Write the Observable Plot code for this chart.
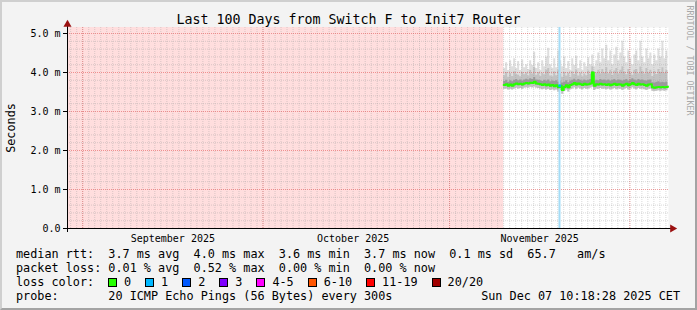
<!DOCTYPE html>
<html><head><meta charset="utf-8">
<script src="https://cdn.jsdelivr.net/npm/d3@7"></script>
<script src="https://cdn.jsdelivr.net/npm/@observablehq/plot@0.6"></script>
<style>
body{margin:0;background:#f3f3f3;}
#wrap{position:relative;width:697px;height:310px;background:#f3f3f3;overflow:hidden;font-family:"DejaVu Sans Mono",monospace;color:#000;}
#wrap svg{position:absolute;left:0;top:0;}
.t{position:absolute;white-space:pre;line-height:14px;font-size:11.8px;}
#title{left:0;width:697px;text-align:center;top:12.6px;font-size:13.3px;}
.box{position:absolute;width:7px;height:7px;border:1px solid #000;}
#frame{position:absolute;left:0;top:0;width:697px;height:310px;box-sizing:border-box;border-top:2px solid #cfcfcf;border-left:2px solid #cfcfcf;border-bottom:2px solid #a3a3a3;border-right:2px solid #a3a3a3;pointer-events:none;}
</style></head><body><div id="wrap"></div>
<script>
// ---- data ----
const title = "Last 100 Days from Switch F to Init7 Router";
const yLabel = "Seconds";
const yTicks = [0, 1, 2, 3, 4, 5];
const monthStarts = ["2025-08-31T22:00:00Z", "2025-09-30T22:00:00Z", "2025-10-31T23:00:00Z", "2025-11-30T23:00:00Z"];
const monthLabelAt = ["2025-09-15T22:00:00Z", "2025-10-15T22:00:00Z", "2025-11-15T23:00:00Z"];
const rangeStart = "2025-08-29T09:18:28Z";
const rangeEnd = "2025-12-07T09:18:28Z";
const unknownEnd = "2025-11-09T23:00:00Z";   // data begins here
const markerTime = "2025-11-19T06:00:00Z";    // light blue vertical line
const sampleHours = 8;

const median = [3.68,3.70,3.66,3.69,3.66,3.70,3.72,3.70,3.71,3.69,
 3.72,3.73,3.72,3.74,3.73,3.76,3.72,3.71,3.70,3.68,
 3.70,3.67,3.69,3.66,3.68,3.65,3.67,3.62,3.66,3.55,
 3.63,3.67,3.62,3.68,3.70,3.73,3.69,3.72,3.70,3.68,
 3.71,3.69,3.70,3.72,4.00,3.66,3.70,3.69,3.71,3.69,
 3.70,3.68,3.70,3.67,3.69,3.71,3.68,3.70,3.69,3.66,
 3.69,3.71,3.67,3.70,3.73,3.70,3.68,3.71,3.69,3.70,
 3.68,3.66,3.69,3.70,3.62,3.61,3.62,3.63,3.62,3.63,
 3.62,3.63,3.64];
const smokeMin = [3.57,3.58,3.55,3.57,3.55,3.58,3.60,3.58,3.59,3.57,
 3.60,3.61,3.60,3.62,3.61,3.63,3.60,3.59,3.58,3.56,
 3.58,3.55,3.57,3.54,3.56,3.53,3.55,3.50,3.54,3.44,
 3.51,3.55,3.50,3.56,3.58,3.61,3.57,3.60,3.58,3.56,
 3.59,3.57,3.58,3.60,3.62,3.54,3.58,3.57,3.59,3.57,
 3.58,3.56,3.58,3.55,3.57,3.59,3.56,3.58,3.57,3.54,
 3.57,3.59,3.55,3.58,3.61,3.58,3.56,3.59,3.57,3.58,
 3.56,3.54,3.57,3.58,3.52,3.51,3.52,3.53,3.52,3.53,
 3.52,3.53,3.54];
const smokeQ1 = [3.64,3.66,3.62,3.65,3.62,3.66,3.68,3.66,3.67,3.65,
 3.68,3.69,3.68,3.70,3.69,3.72,3.68,3.67,3.66,3.64,
 3.66,3.63,3.65,3.62,3.64,3.61,3.63,3.58,3.62,3.51,
 3.59,3.63,3.58,3.64,3.66,3.69,3.65,3.68,3.66,3.64,
 3.67,3.65,3.66,3.68,3.72,3.62,3.66,3.65,3.67,3.65,
 3.66,3.64,3.66,3.63,3.65,3.67,3.64,3.66,3.65,3.62,
 3.65,3.67,3.63,3.66,3.69,3.66,3.64,3.67,3.65,3.66,
 3.64,3.62,3.65,3.66,3.58,3.57,3.58,3.59,3.58,3.59,
 3.58,3.59,3.60];
const smokeQ3 = [3.77,3.80,3.75,3.79,3.76,3.80,3.82,3.79,3.81,3.78,
 3.81,3.83,3.81,3.84,3.82,3.87,3.81,3.80,3.79,3.77,
 3.80,3.78,3.81,3.76,3.78,3.77,3.79,3.75,3.78,3.73,
 3.75,3.79,3.74,3.78,3.80,3.83,3.79,3.82,3.80,3.78,
 3.81,3.79,3.80,3.82,4.02,3.77,3.80,3.79,3.82,3.80,
 3.81,3.79,3.81,3.78,3.80,3.82,3.79,3.81,3.80,3.78,
 3.80,3.82,3.78,3.81,3.84,3.81,3.79,3.82,3.80,3.81,
 3.79,3.78,3.80,3.81,3.74,3.73,3.75,3.76,3.74,3.75,
 3.74,3.75,3.76];
const smokeP90 = [3.92,4.00,3.88,3.97,3.90,4.02,3.95,3.93,3.89,4.00,
 3.94,3.99,3.91,4.05,3.96,4.12,3.93,4.00,3.90,3.98,
 3.94,4.06,4.10,3.91,3.89,4.02,3.92,4.06,3.96,3.88,
 4.00,3.91,3.98,3.88,4.02,3.95,4.06,3.91,3.99,3.89,
 3.96,3.92,4.04,3.95,4.15,3.91,3.99,4.06,3.96,4.08,
 3.99,4.12,3.97,4.06,3.93,4.04,4.10,3.96,4.06,4.15,
 4.01,3.94,4.08,3.99,3.93,4.06,4.08,3.97,4.14,4.03,
 3.96,4.10,3.99,4.06,3.90,4.03,3.95,4.08,4.00,4.12,
 3.98,4.05,3.92];
const smokeMax = [4.10,4.25,4.05,4.30,4.15,4.35,4.10,4.28,4.05,4.32,
 4.12,4.20,4.08,4.30,4.18,4.52,4.10,4.25,4.05,4.30,
 4.15,4.40,4.62,4.20,4.10,4.35,4.12,4.55,4.30,4.15,
 4.40,4.10,4.28,4.05,4.35,4.18,4.42,4.10,4.30,4.05,
 4.25,4.15,4.38,4.20,4.45,4.15,4.30,4.50,4.25,4.60,
 4.35,4.70,4.30,4.55,4.20,4.45,4.65,4.30,4.50,4.80,
 4.40,4.25,4.55,4.35,4.20,4.45,4.55,4.30,4.80,4.40,
 4.25,4.60,4.35,4.50,4.20,4.45,4.30,4.60,4.40,4.80,
 4.35,4.55,4.20];
const lostPings = [0,0,0,0,0,0,0,0,0,0,
 0,0,0,0,0,0,0,0,0,0,
 0,0,0,0,0,0,0,0,1,0,
 0,0,0,0,0,0,0,0,0,0,
 0,0,0,0,0,0,0,0,0,0,
 0,0,0,0,0,0,0,0,0,0,
 0,0,0,0,0,0,0,0,0,0,
 0,0,0,0,0,0,0,0,0,0,
 0,0,0];

const lossLabels = ["0", "1", "2", "3", "4-5", "6-10", "11-19", "20/20"];
const lossColors = ["#26ff00", "#00b8ff", "#0059ff", "#7e00ff", "#ff00ff", "#ff5500", "#ff0000", "#a10000"];
const rttNames = ["avg", "max", "min", "now", "sd"];
const rttValues = [3.7, 4.0, 3.6, 3.7, 0.1];
const amsValue = "65.7";
const lossNames = ["avg", "max", "min", "now"];
const lossValues = ["0.01", "0.52", "0.00", "0.00"];
const probeText = "20 ICMP Echo Pings (56 Bytes) every 300s";
const stamp = "Sun Dec 07 10:18:28 2025 CET";
const credit = "RRDTOOL / TOBI OETIKER";

// ---- build ----
const xStart = new Date(rangeStart), xEnd = new Date(rangeEnd);
const yMax = 5.154;
const t0 = new Date(unknownEnd);
const rows = median.map((m, i) => ({
  t: new Date(+t0 + i * sampleHours * 3600e3), median: m,
  min: smokeMin[i], q1: smokeQ1[i], q3: smokeQ3[i], p90: smokeP90[i], max: smokeMax[i], loss: lostPings[i]
}));
const days = d3.utcDay.range(new Date("2025-08-29T00:00:00Z"), xEnd)
  .map(d => new Date(+d - (d < new Date("2025-10-26T00:00:00Z") ? 2 : 1) * 3600e3))
  .filter(d => d > xStart && d < xEnd);
const minorY = d3.range(1, 26).map(i => +(i * 0.2).toFixed(1)).filter(v => Math.abs(v - Math.round(v)) > 1e-6);
const majorX = monthStarts.map(s => new Date(s)).filter(d => d > xStart && d < xEnd);

const plot = Plot.plot({
  width: 697, height: 310,
  marginLeft: 67, marginRight: 29, marginTop: 27, marginBottom: 82,
  x: {type: "utc", domain: [xStart, xEnd]},
  y: {domain: [0, yMax]},
  color: {type: "identity"},
  style: {background: "transparent", fontFamily: "DejaVu Sans Mono", fontSize: "10px", color: "black", overflow: "visible"},
  marks: [
    Plot.frame({fill: "white", stroke: null}),
    Plot.rect([{a: xStart, b: t0}], {x1: "a", x2: "b", fill: "#ffdede"}),
    Plot.areaY(rows, {x: "t", y1: "min", y2: "max", fill: "#dedede", curve: "step-after"}),
    Plot.areaY(rows, {x: "t", y1: "min", y2: "p90", fill: "#c2c2c2", curve: "step-after"}),
    Plot.areaY(rows, {x: "t", y1: "q1", y2: "q3", fill: "#9a9a9a", curve: "step-after"}),
    Plot.ruleY(minorY, {stroke: "#9a9a9a", strokeOpacity: 0.38, strokeDasharray: "1,1"}),
    Plot.ruleX(days, {stroke: "#9a9a9a", strokeOpacity: 0.38, strokeDasharray: "1,1"}),
    Plot.ruleY([1, 2, 3, 4, 5], {stroke: "#e04040", strokeOpacity: 0.5, strokeDasharray: "1,1"}),
    Plot.ruleX(majorX, {stroke: "#e04040", strokeOpacity: 0.45, strokeDasharray: "1,1"}),
    Plot.ruleX([new Date(markerTime)], {stroke: "#a3dcf6", strokeWidth: 2}),
    Plot.lineY(rows, {x: "t", y: "median", stroke: lossColors[0], strokeWidth: 2, curve: "step-after"}),
    Plot.dot(rows.filter(d => d.loss > 0), {x: "t", y: "median", r: 1.5, fill: d => lossColors[d.loss], stroke: null}),
    Plot.axisY({ticks: yTicks, tickFormat: d => d === 0 ? "0.0" : d.toFixed(1) + " m", tickSize: 4, tickPadding: 3, fontSize: 10, label: null}),
    Plot.axisX({ticks: monthLabelAt.map(s => new Date(s)), tickFormat: d3.utcFormat("%B %Y"), tickSize: 0, tickPadding: 6, fontSize: 10, label: null}),
    Plot.ruleY([0], {stroke: "black", insetLeft: -4, insetRight: -4}),
    Plot.ruleX([xStart], {stroke: "black", insetTop: -4, insetBottom: -4}),
    Plot.dot([xEnd], {x: d => d, y: 0, symbol: "triangle", r: 3, fill: "#9b1010", stroke: null, rotate: 90, dx: 4}),
    Plot.dot([xStart], {x: d => d, y: yMax, symbol: "triangle", r: 3, fill: "#9b1010", stroke: null, dy: -3}),
    Plot.text([yLabel], {frameAnchor: "left", text: d => d, rotate: -90, dx: -53, lineAnchor: "bottom", fontSize: 11.8, textAnchor: "middle"}),
    Plot.text([credit], {frameAnchor: "top-right", text: d => d, rotate: 90, dx: 18, dy: 33, lineAnchor: "bottom", fontSize: 8.3, fill: "#a8a8a8", textAnchor: "middle"})
  ]
});

const wrap = document.getElementById("wrap");
wrap.appendChild(plot);

function addText(txt, left, top, extra) {
  const el = document.createElement("div");
  el.className = "t";
  el.textContent = txt;
  el.style.left = left + "px";
  el.style.top = top + "px";
  if (extra) Object.assign(el.style, extra);
  wrap.appendChild(el);
  return el;
}
const t = document.createElement("div");
t.id = "title"; t.className = "t"; t.textContent = title;
wrap.appendChild(t);

const cw = 7.1;
addText("median rtt:  " + rttValues.map((v, i) => `${v.toFixed(1)} ms ${rttNames[i]}`).join("  ") + "  " + amsValue + "   am/s", 16, 247);
addText("packet loss: " + lossValues.map((v, i) => `${v} % ${lossNames[i]}`).join("  "), 16, 261);
addText("loss color:", 16, 275);
let x = 108;
lossLabels.forEach((lab, i) => {
  const b = document.createElement("div");
  b.className = "box";
  b.style.left = x + "px"; b.style.top = "278px"; b.style.background = lossColors[i];
  wrap.appendChild(b);
  addText(lab, x + 16, 275);
  x = x + 16 + lab.length * cw + 14;
});
addText("probe:       " + probeText, 16, 289);
addText(stamp, 0, 289, {left: "auto", right: "17px"});

const fr = document.createElement("div"); fr.id = "frame"; wrap.appendChild(fr);
</script></body></html>
